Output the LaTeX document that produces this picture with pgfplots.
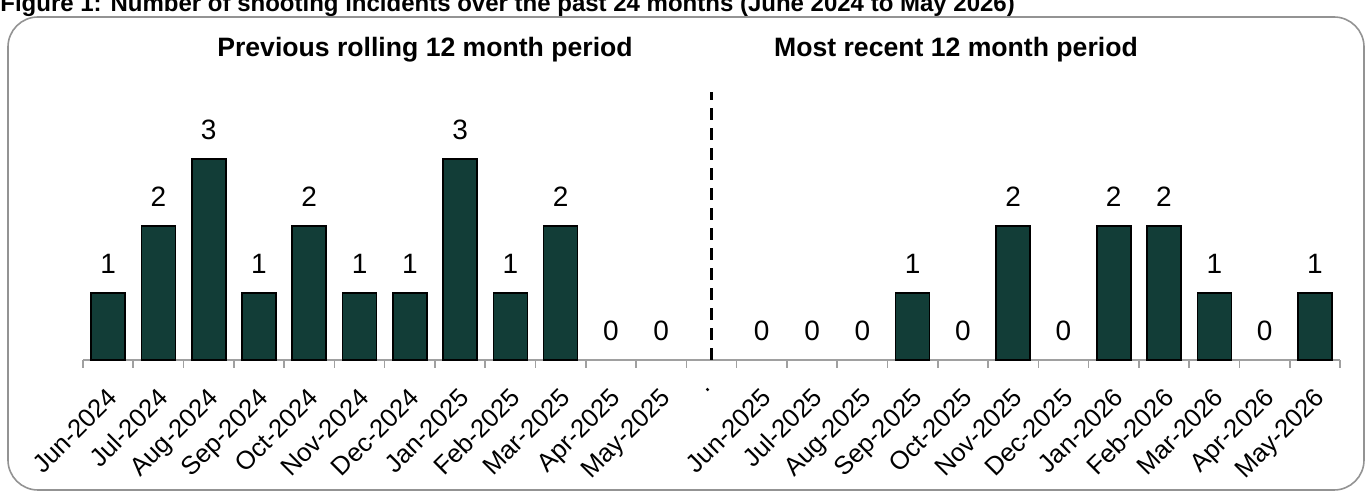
\documentclass[border=0pt]{standalone}
\usepackage{pgfplots}
\pgfplotsset{compat=1.18}
\usepackage{fontspec}
\setmainfont{Liberation Sans}
\definecolor{barfill}{RGB}{18,61,55}
\definecolor{axisgray}{RGB}{160,160,160}
\begin{document}
\begin{tikzpicture}[x=1pt,y=1pt]
\useasboundingbox (0,0) rectangle (686,248.5);
\node[anchor=base west, inner sep=0, font=\bfseries\fontsize{12}{14}\selectfont] at (0,242.5)
  {Figure 1: Number of shooting incidents over the past 24 months (June 2024 to May 2026)};
\draw[color=gray!85, line width=0.8pt, rounded corners=15pt] (4,3.5) rectangle (682,240);
\node[font=\bfseries\fontsize{13.3}{15}\selectfont] at (212.5,223.5) {Previous rolling 12 month period};
\node[font=\bfseries\fontsize{13.3}{15}\selectfont] at (478,223.5) {Most recent 12 month period};
\begin{axis}[
  at={(41.5pt,68.5pt)}, anchor=south west,
  scale only axis, width=628.5pt, height=134pt,
  xmin=-0.5, xmax=24.5, ymin=0, ymax=4,
  axis x line*=bottom, axis y line=none,
  ybar, bar width=17pt, bar shift=0pt,
  xtick={0,...,24},
  xticklabels={Jun-2024,Jul-2024,Aug-2024,Sep-2024,Oct-2024,Nov-2024,Dec-2024,Jan-2025,Feb-2025,Mar-2025,Apr-2025,May-2025,.,Jun-2025,Jul-2025,Aug-2025,Sep-2025,Oct-2025,Nov-2025,Dec-2025,Jan-2026,Feb-2026,Mar-2026,Apr-2026,May-2026},
  major tick length=0pt,
  minor xtick={-0.5,0.5,...,24.5},
  minor tick length=4pt, tick align=outside,
  x axis line style={axisgray, line width=0.8pt},
  minor tick style={axisgray, line width=0.8pt},
  ytick=\empty,
  xticklabel style={xshift=-1pt, yshift=-11.5pt, rotate=45, anchor=north east, inner sep=1pt,
    font=\fontsize{12.8}{14}\selectfont},
  /pgf/number format/assume math mode=true,
  nodes near coords,
  every node near coord/.append style={font=\fontsize{14}{16}\selectfont, color=black, yshift=6pt},
  clip=false,
]
\addplot[fill=barfill, draw=black, line width=0.8pt] coordinates {
  (0,1) (1,2) (2,3) (3,1) (4,2) (5,1) (6,1) (7,3) (8,1) (9,2)
  (16,1) (18,2) (20,2) (21,2) (22,1) (24,1)
};
\addplot[draw=none, fill=none] coordinates {
  (10,0) (11,0) (13,0) (14,0) (15,0) (17,0) (19,0) (23,0)
};
\draw[black, line width=1.5pt, dash pattern=on 6pt off 4pt] (axis cs:12,0) -- (axis cs:12,4);
\end{axis}
\end{tikzpicture}
\end{document}
